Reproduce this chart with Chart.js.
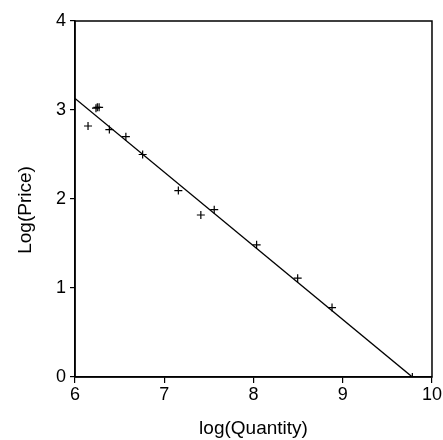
<!DOCTYPE html>
<html>
<head>
<meta charset="utf-8">
<script src="https://cdn.jsdelivr.net/npm/chart.js@4"></script>
<style>
html,body{margin:0;padding:0;background:#fff;}
#wrap{width:443px;height:440px;}
</style>
</head>
<body>
<div id="wrap"><canvas id="c" width="443" height="440"></canvas></div>
<script>
const logQuantity = [6.146, 6.235, 6.25, 6.27, 6.385, 6.57, 6.758, 7.158, 7.41, 7.56, 8.035, 8.495, 8.88, 9.78];
const logPrice    = [2.82, 3.02, 3.03, 3.03, 2.78, 2.70, 2.50, 2.095, 1.82, 1.88, 1.485, 1.11, 0.78, 0.0];
const fitX = [6, 9.78];
const fitY = [3.13, 0];
const xTicks = [6, 7, 8, 9, 10];
const yTicks = [0, 1, 2, 3, 4];
const xTitle = 'log(Quantity)';
const yTitle = 'Log(Price)';
const FONT = 'Liberation Sans, Arial, sans-serif';

const frame = {
  id: 'frame',
  afterDraw(chart) {
    const {ctx, chartArea: a} = chart;
    ctx.save();
    ctx.strokeStyle = '#000';
    ctx.lineWidth = 1.5;
    ctx.strokeRect(a.left, a.top, a.right - a.left, a.bottom - a.top);
    // y-axis title
    ctx.fillStyle = '#000';
    ctx.font = '19px ' + FONT;
    ctx.textAlign = 'center';
    ctx.textBaseline = 'middle';
    ctx.translate(26, (a.top + a.bottom) / 2 + 11);
    ctx.rotate(-Math.PI / 2);
    ctx.fillText(yTitle, 0, 0);
    ctx.restore();
  }
};

new Chart(document.getElementById('c'), {
  type: 'scatter',
  data: {
    datasets: [
      {
        data: logQuantity.map((x, i) => ({x, y: logPrice[i]})),
        pointStyle: 'cross',
        pointRadius: 4,
        pointBorderWidth: 1.2,
        borderColor: '#000',
        backgroundColor: '#000'
      },
      {
        type: 'line',
        data: fitX.map((x, i) => ({x, y: fitY[i]})),
        borderColor: '#000',
        borderWidth: 1.4,
        pointRadius: 0,
        fill: false
      }
    ]
  },
  options: {
    responsive: false,
    animation: false,
    devicePixelRatio: 1,
    layout: {padding: {top: 21, right: 11, left: 0, bottom: 0}},
    plugins: {legend: {display: false}, tooltip: {enabled: false}},
    scales: {
      x: {
        type: 'linear',
        min: 6, max: 10,
        afterBuildTicks(s) { s.ticks = xTicks.map(v => ({value: v})); },
        afterFit(s) { s.height = 63; },
        grid: {display: true, drawOnChartArea: false, drawTicks: true, tickLength: 6, color: '#000', lineWidth: 1.2},
        border: {display: true, color: '#000', width: 1.5},
        ticks: {color: '#000', padding: 1, font: {family: FONT, size: 18}, maxRotation: 0},
        title: {display: true, text: xTitle, color: '#000', font: {family: FONT, size: 19}, padding: {top: 4, bottom: 0}}
      },
      y: {
        type: 'linear',
        min: 0, max: 4,
        afterBuildTicks(s) { s.ticks = yTicks.map(v => ({value: v})); },
        afterFit(s) { s.width = 75; },
        grid: {display: true, drawOnChartArea: false, drawTicks: true, tickLength: 5, color: '#000', lineWidth: 1.2},
        border: {display: true, color: '#000', width: 1.5},
        ticks: {color: '#000', padding: 4, font: {family: FONT, size: 18}},
        title: {display: false}
      }
    }
  },
  plugins: [frame]
});
</script>
</body>
</html>
